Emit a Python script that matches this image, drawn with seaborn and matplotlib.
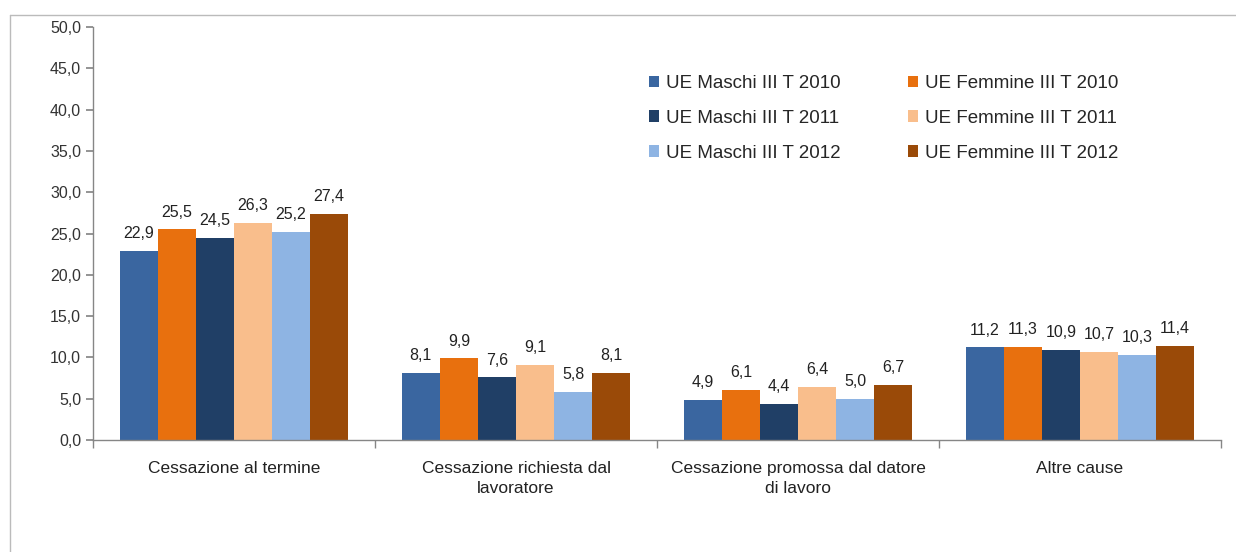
import matplotlib
matplotlib.use("Agg")
import matplotlib.pyplot as plt
import seaborn as sns
import pandas as pd
import numpy as np
from matplotlib.lines import Line2D
from matplotlib.ticker import FixedLocator, FuncFormatter

categories = ["Cessazione al termine", "Cessazione richiesta dal\nlavoratore",
              "Cessazione promossa dal datore\ndi lavoro", "Altre cause"]
series = ["UE Maschi III T 2010", "UE Femmine III T 2010", "UE Maschi III T 2011",
          "UE Femmine III T 2011", "UE Maschi III T 2012", "UE Femmine III T 2012"]
maschi_2010 = [22.9, 8.1, 4.9, 11.2]
femmine_2010 = [25.5, 9.9, 6.1, 11.3]
maschi_2011 = [24.5, 7.6, 4.4, 10.9]
femmine_2011 = [26.3, 9.1, 6.4, 10.7]
maschi_2012 = [25.2, 5.8, 5.0, 10.3]
femmine_2012 = [27.4, 8.1, 6.7, 11.4]
values = [maschi_2010, femmine_2010, maschi_2011, femmine_2011, maschi_2012, femmine_2012]
colors = ["#3A66A0", "#E8700E", "#203F66", "#F9BE8C", "#8EB4E3", "#9A4A08"]

rows = []
for s, vals in zip(series, values):
    for c, v in zip(categories, vals):
        rows.append({"cat": c, "serie": s, "val": v})
df = pd.DataFrame(rows)

sns.set_theme(style="white")
plt.rcParams['font.family'] = ['Liberation Sans Narrow', 'Liberation Sans', 'DejaVu Sans']

fig = plt.figure(figsize=(12.36, 5.52), dpi=100)
ax = fig.add_axes([93/1236, 1-440/552, (1221-93)/1236, (440-27)/552])

sns.barplot(data=df, x="cat", y="val", hue="serie", order=categories, hue_order=series,
            palette=colors, width=0.81, gap=0, saturation=1, ax=ax, legend=True,
            edgecolor="none", linewidth=0)

for cont in ax.containers:
    ax.bar_label(cont, labels=[f"{v:.1f}".replace(".", ",") for v in cont.datavalues],
                 padding=7, fontsize=11.5, color="#222222")

ax.set_ylim(0, 50)
ax.set_xlim(-0.5, 3.5)
ax.yaxis.set_major_locator(FixedLocator(np.arange(0, 50.1, 5)))
ax.yaxis.set_major_formatter(FuncFormatter(lambda v, p: f"{v:.1f}".replace(".", ",")))
ax.set_xlabel("")
ax.set_ylabel("")
ax.xaxis.set_minor_locator(FixedLocator([-0.5, 0.5, 1.5, 2.5, 3.5]))
ax.tick_params(axis="x", which="major", length=0, labelsize=12.5, pad=15, colors="#222222")
ax.tick_params(axis="x", which="minor", length=6, color="#868686", direction="out", bottom=True)
ax.tick_params(axis="y", length=5, color="#868686", direction="out", left=True, labelsize=11.5, colors="#333333")
for lab in ax.get_xticklabels():
    lab.set_color("#222222")
    lab.set_multialignment("center")
    lab.set_linespacing(1.45)
for s in ["top", "right"]:
    ax.spines[s].set_visible(False)
for s in ["left", "bottom"]:
    ax.spines[s].set_color("#868686")
    ax.spines[s].set_linewidth(1)

handles, labels = ax.get_legend_handles_labels()
order = [0, 2, 4, 1, 3, 5]
ax.legend([handles[i] for i in order], [labels[i] for i in order], ncol=2, frameon=False,
          loc="upper left", bbox_to_anchor=(632/1236, 1-58/552), bbox_transform=fig.transFigure,
          fontsize=13.5, handlelength=0.55, handleheight=0.55, handletextpad=0.35,
          labelspacing=0.95, columnspacing=3.6)

fig.add_artist(Line2D([10/1236, 1], [1-15/552, 1-15/552], transform=fig.transFigure,
                      color="#BBBBBB", linewidth=1))
fig.add_artist(Line2D([10/1236, 10/1236], [0, 1-15/552], transform=fig.transFigure,
                      color="#BBBBBB", linewidth=1))

fig.savefig("out.png", dpi=100, facecolor="white")
